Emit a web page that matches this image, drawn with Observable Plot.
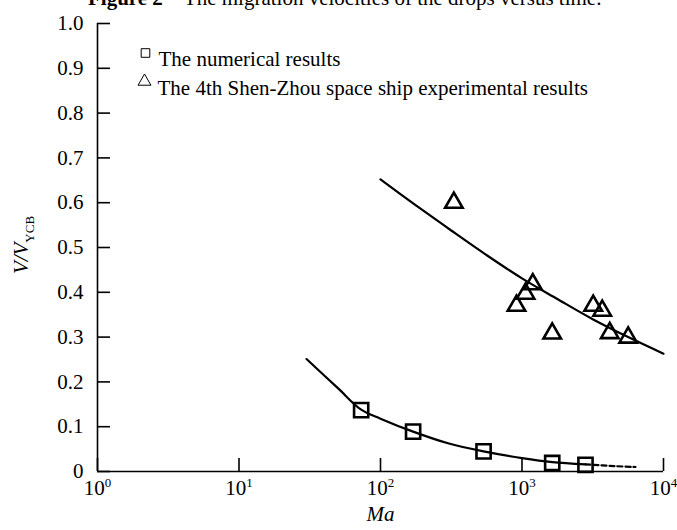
<!DOCTYPE html>
<html><head><meta charset="utf-8">
<script src="https://cdn.jsdelivr.net/npm/d3@7"></script>
<script src="https://cdn.jsdelivr.net/npm/@observablehq/plot@0.6"></script>
<style>
body{margin:0;background:#fff;}
#wrap{position:relative;width:677px;height:530px;overflow:hidden;font-family:"Liberation Serif","Times New Roman",serif;color:#000;}
#title{position:absolute;top:-12px;left:88px;font-size:21px;line-height:21px;white-space:nowrap;}
#chart{position:absolute;left:0;top:0;}
</style></head><body>
<div id="wrap"><div id="chart"></div><div id="title"><b>Figure 2</b>&nbsp;&nbsp;&nbsp;&nbsp;The migration velocities of the drops versus time.</div></div>
<script>
// Numerical results (squares)
const numMa = [73, 170, 535, 1635, 2810];
const numV = [0.137, 0.089, 0.045, 0.019, 0.015];
// 4th Shen-Zhou experimental results (triangles)
const expMa = [330, 914, 1059, 1192, 1635, 3186, 3689, 4171, 5629];
const expV = [0.600, 0.370, 0.397, 0.418, 0.308, 0.370, 0.359, 0.309, 0.299];
// Upper fitted curve
const upperMa = [100, 178, 316, 562, 1000, 1778, 3162, 5623, 10000];
const upperV = [0.652, 0.594, 0.538, 0.483, 0.431, 0.385, 0.340, 0.300, 0.263];
// Lower curve
const lowerMa = [30, 50, 73, 100, 170, 300, 535, 1000, 1635, 2810];
const lowerV = [0.251, 0.186, 0.138, 0.118, 0.089, 0.063, 0.045, 0.030, 0.021, 0.016];
const tailMa = [2810, 4500, 6340];
const tailV = [0.016, 0.012, 0.010];
// Ticks
const xTicks = [1, 10, 100, 1000, 10000];
const xTickBase = "10";
const xTickExp = ["0", "1", "2", "3", "4"];
const yTicks = [0, 0.1, 0.2, 0.3, 0.4, 0.5, 0.6, 0.7, 0.8, 0.9, 1.0];
const yTickLabels = ["0", "0.1", "0.2", "0.3", "0.4", "0.5", "0.6", "0.7", "0.8", "0.9", "1.0"];
const legendLabels = ["The numerical results", "The 4th Shen-Zhou space ship experimental results"];
const legendSymbols = ["square", "triangle"];
const xLabel = "Ma";

const zip = (xs, ys) => xs.map((x, i) => ({x, y: ys[i]}));
const FONT = '"Liberation Serif","Times New Roman",serif';

const plot = Plot.plot({
  width: 677, height: 530,
  marginLeft: 97, marginRight: 14, marginTop: 23, marginBottom: 59,
  style: {fontFamily: FONT, fontSize: "21px", color: "#000", background: "#fff", overflow: "visible"},
  x: {type: "log", domain: [1, 10000]},
  y: {domain: [0, 1]},
  marks: [
    Plot.axisY(yTicks, {tickSize: 13, dx: 13, fill: "none", strokeWidth: 1.6, label: null}),
    Plot.axisY(yTicks, {tickSize: 0, tickPadding: 14, tickFormat: d => yTickLabels[yTicks.indexOf(d)], label: null, fontSize: 21}),
    Plot.axisX(xTicks, {tickSize: 13, dy: -13, fill: "none", strokeWidth: 1.6, label: null}),
    Plot.axisX(xTicks, {tickSize: 0, tickPadding: 9, tickFormat: () => xTickBase, label: null, fontSize: 21}),
    Plot.ruleX([1], {stroke: "#000", strokeWidth: 1.6}),
    Plot.ruleY([0], {stroke: "#000", strokeWidth: 1.6}),
    Plot.line(zip(upperMa, upperV), {x: "x", y: "y", stroke: "#000", strokeWidth: 2.2, curve: "catmull-rom"}),
    Plot.line(zip(lowerMa, lowerV), {x: "x", y: "y", stroke: "#000", strokeWidth: 2.2, curve: "catmull-rom"}),
    Plot.line(zip(tailMa, tailV), {x: "x", y: "y", stroke: "#000", strokeWidth: 2.2, strokeDasharray: "5,3", curve: "catmull-rom"}),
    Plot.dot(zip(numMa, numV), {x: "x", y: "y", symbol: "square", r: 8, stroke: "#000", strokeWidth: 2.6, fill: "none"}),
    Plot.dot(zip(expMa, expV), {x: "x", y: "y", symbol: "triangle", r: 6.5, stroke: "#000", strokeWidth: 2.6, fill: "none"}),
    // legend
    Plot.dot([legendSymbols[0]], {x: null, y: null, symbol: d => d, frameAnchor: "top-left", dx: 48, dy: 29.5, r: 4.85, stroke: "#000", strokeWidth: 1, fill: "none"}),
    Plot.dot([legendSymbols[1]], {x: null, y: null, symbol: d => d, frameAnchor: "top-left", dx: 47, dy: 58, r: 4.8, stroke: "#000", strokeWidth: 1, fill: "none"}),
    Plot.text([legendLabels[0]], {x: null, y: null, text: d => d, frameAnchor: "top-left", dx: 61, dy: 27.6, textAnchor: "start", fontSize: 21}),
    Plot.text([legendLabels[1]], {x: null, y: null, text: d => d, frameAnchor: "top-left", dx: 60, dy: 56.3, textAnchor: "start", fontSize: 21}),
    Plot.text([xLabel], {x: null, y: null, text: d => d, frameAnchor: "bottom", dy: 49, fontSize: 21, fontStyle: "italic"})
  ]
});

const svg = d3.select(plot);
// superscript exponents on x tick labels
svg.selectAll('g[aria-label="x-axis tick label"] text').each(function(d, i) {
  const t = d3.select(this);
  t.text(xTickBase);
  t.append("tspan").attr("font-size", 13).attr("dy", -8).text(xTickExp[i]);
});
// y-axis label with subscript
const yl = svg.append("text")
  .attr("transform", "translate(28,245) rotate(-90)")
  .attr("text-anchor", "middle")
  .attr("font-family", FONT)
  .attr("font-size", 21)
  .attr("fill", "#000");
yl.append("tspan").attr("font-style", "italic").text("V/V");
yl.append("tspan").attr("font-size", 13).attr("dy", 6).text("YCB");

document.getElementById("chart").appendChild(plot);
</script>
</body></html>
